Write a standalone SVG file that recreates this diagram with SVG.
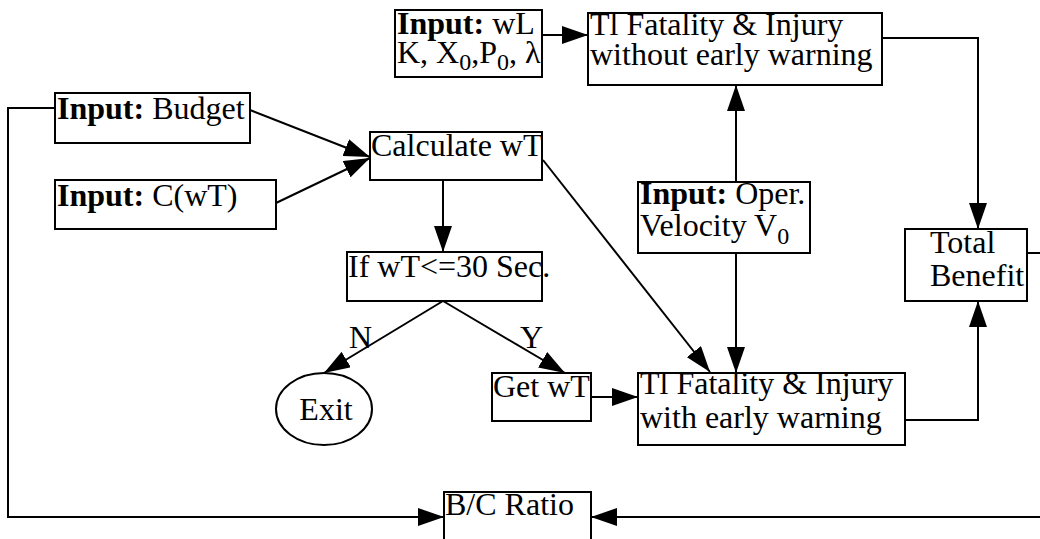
<svg xmlns="http://www.w3.org/2000/svg" width="1040" height="539" viewBox="0 0 1040 539">
  <style>
    .box { fill: #ffffff; stroke: #000000; stroke-width: 2; }
    .edge { fill: none; stroke: #000000; stroke-width: 2; }
    text { font-family: "Liberation Serif", "Times New Roman", serif; font-size: 32px; fill: #000000; }
    .b { font-weight: bold; }
    .sub { font-size: 24px; }
  </style>
  <defs>
    <marker id="ah" viewBox="0 0 26 18" refX="26" refY="9" markerWidth="26" markerHeight="18" orient="auto" markerUnits="userSpaceOnUse">
      <path d="M0,0 L26,9 L0,18 z" fill="#000000"/>
    </marker>
  </defs>

  <rect width="1040" height="539" fill="#ffffff"/>

  <!-- connectors -->
  <g id="connectors">
    <path class="edge" d="M542,35 H588" marker-end="url(#ah)"/>
    <path class="edge" d="M882,38 H978 V229" marker-end="url(#ah)"/>
    <path class="edge" d="M250,110 L370,157" marker-end="url(#ah)"/>
    <path class="edge" d="M276,203 L370,158" marker-end="url(#ah)"/>
    <path class="edge" d="M443,180 V252" marker-end="url(#ah)"/>
    <path class="edge" d="M543,160 L710,372" marker-end="url(#ah)"/>
    <path class="edge" d="M736,182 V85" marker-end="url(#ah)"/>
    <path class="edge" d="M736,253 V373" marker-end="url(#ah)"/>
    <path class="edge" d="M443,301 L324,373" marker-end="url(#ah)"/>
    <path class="edge" d="M443,301 L565,373" marker-end="url(#ah)"/>
    <path class="edge" d="M591,397 H638" marker-end="url(#ah)"/>
    <path class="edge" d="M905,420 H978 V301" marker-end="url(#ah)"/>
    <path class="edge" d="M55,108 H8 V517 H444" marker-end="url(#ah)"/>
    <path class="edge" d="M1027,253 H1048 V517 H591" marker-end="url(#ah)"/>
    <text x="349" y="348">N</text>
    <text x="520" y="348">Y</text>
  </g>

  <g id="input-wl">
    <rect class="box" x="395" y="10" width="147" height="67"/>
    <text x="397" y="34"><tspan class="b">Input:</tspan> wL</text>
    <text x="397" y="63">K, X<tspan class="sub" dy="7">0</tspan><tspan dy="-7">,P</tspan><tspan class="sub" dy="7">0</tspan><tspan dy="-7">, λ</tspan></text>
  </g>

  <g id="fatality-without">
    <rect class="box" x="588" y="13" width="294" height="72"/>
    <text x="590" y="35">Tl Fatality &amp; Injury</text>
    <text x="590" y="65">without early warning</text>
  </g>

  <g id="input-budget">
    <rect class="box" x="55" y="93" width="195" height="50"/>
    <text x="57" y="119"><tspan class="b">Input:</tspan> Budget</text>
  </g>

  <g id="input-cwt">
    <rect class="box" x="55" y="180" width="221" height="49"/>
    <text x="57" y="206"><tspan class="b">Input:</tspan> C(wT)</text>
  </g>

  <g id="calculate-wt">
    <rect class="box" x="370" y="132" width="172" height="48"/>
    <text x="371" y="156">Calculate wT</text>
  </g>

  <g id="input-velocity">
    <rect class="box" x="638" y="182" width="172" height="71"/>
    <text x="640" y="204"><tspan class="b">Input:</tspan> Oper.</text>
    <text x="640" y="236">Velocity V<tspan class="sub" dy="8">0</tspan></text>
  </g>

  <g id="total-benefit">
    <rect class="box" x="905" y="229" width="122" height="72"/>
    <text x="930" y="253">Total</text>
    <text x="930" y="286">Benefit</text>
  </g>

  <g id="check-wt">
    <rect class="box" x="347" y="252" width="195" height="49"/>
    <text x="348" y="277">If wT&lt;=30 Sec.</text>
  </g>

  <g id="exit">
    <ellipse class="box" cx="324" cy="409" rx="48" ry="36"/>
    <text x="326" y="420" text-anchor="middle">Exit</text>
  </g>

  <g id="get-wt">
    <rect class="box" x="492" y="373" width="99" height="48"/>
    <text x="493" y="397">Get wT</text>
  </g>

  <g id="fatality-with">
    <rect class="box" x="638" y="373" width="267" height="72"/>
    <text x="640" y="394">Tl Fatality &amp; Injury</text>
    <text x="640" y="428">with early warning</text>
  </g>

  <g id="bc-ratio">
    <rect class="box" x="444" y="492" width="147" height="60"/>
    <text x="445" y="515">B/C Ratio</text>
  </g>
</svg>
